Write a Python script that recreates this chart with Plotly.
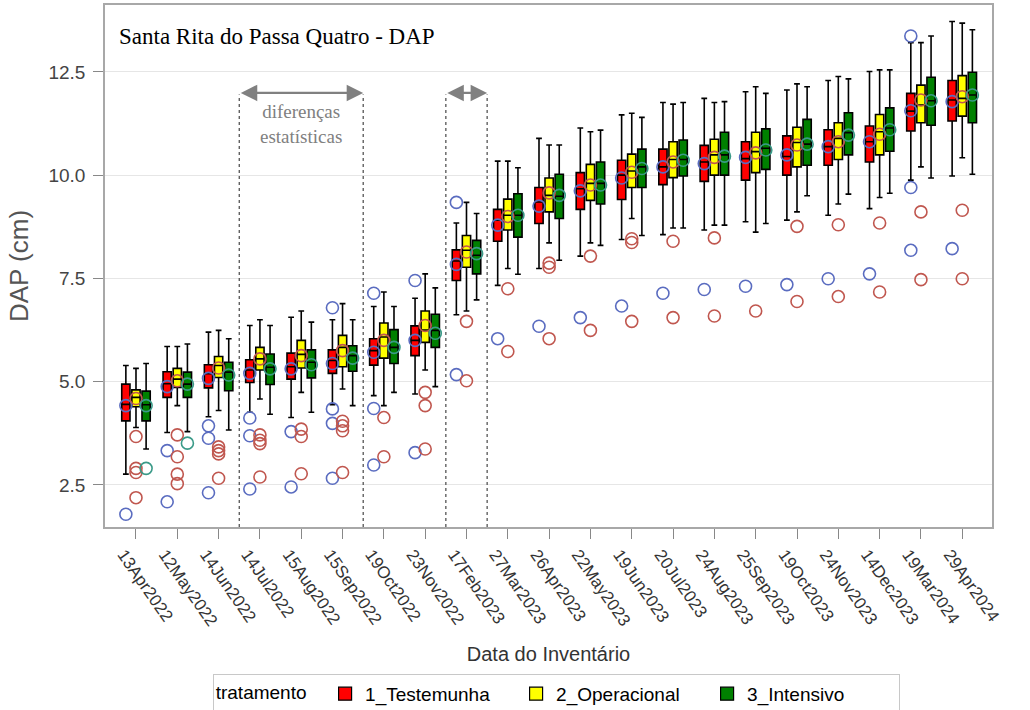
import plotly.graph_objects as go

datas = ["13Apr2022", "12May2022", "14Jun2022", "14Jul2022", "15Aug2022", "15Sep2022",
         "19Oct2022", "23Nov2022", "17Feb2023", "27Mar2023", "26Apr2023", "22May2023",
         "19Jun2023", "20Jul2023", "24Aug2023", "25Sep2023", "19Oct2023", "24Nov2023",
         "14Dec2023", "19Mar2024", "29Apr2024"]

# 1_Testemunha
t1_low = [2.76, 3.77, 4.15, 4.26, 4.13, 4.44, 4.66, 4.70, 6.62, 7.33, 7.74, 8.04, 8.44, 8.56, 8.67, 8.87, 8.91, 9.03, 9.19, 9.88, 9.98]
t1_q1 = [4.05, 4.62, 4.85, 4.98, 5.06, 5.20, 5.40, 5.63, 7.45, 8.40, 8.83, 9.17, 9.41, 9.77, 9.85, 9.88, 10.00, 10.24, 10.32, 11.07, 11.31]
t1_med = [4.45, 4.95, 5.19, 5.28, 5.36, 5.51, 5.75, 6.00, 7.92, 8.91, 9.35, 9.67, 10.00, 10.20, 10.32, 10.40, 10.45, 10.69, 10.81, 11.55, 11.82]
t1_q3 = [4.94, 5.24, 5.41, 5.53, 5.69, 5.77, 6.04, 6.35, 8.19, 9.17, 9.70, 10.06, 10.36, 10.63, 10.72, 10.81, 10.95, 11.10, 11.19, 11.98, 12.29]
t1_high = [5.39, 5.85, 6.20, 6.36, 6.56, 6.50, 6.82, 7.02, 8.84, 10.34, 10.89, 11.14, 11.46, 11.76, 11.86, 12.02, 12.06, 12.29, 12.51, 13.21, 13.72]
t1_mean = [4.42, 4.88, 5.08, 5.20, 5.31, 5.44, 5.71, 6.00, 7.84, 8.79, 9.25, 9.62, 9.93, 10.20, 10.28, 10.43, 10.49, 10.69, 10.81, 11.56, 11.78]
t1_out = [[1.79], [3.33, 2.09], [3.93, 3.63, 2.31], [4.12, 3.69, 2.40], [3.79, 2.45],
          [6.79, 4.34, 3.99, 2.66], [7.14, 4.35, 2.98], [7.45, 3.28], [9.34, 5.17], [6.04],
          [6.34], [6.55], [6.83], [7.14], [7.23], [7.31], [7.35], [7.49], [7.61],
          [13.37, 9.70, 8.18], [8.22]]

# 2_Operacional
t2_low = [3.89, 4.42, 4.30, 4.58, 4.74, 4.82, 4.42, 5.28, 6.71, 7.74, 8.36, 8.36, 8.95, 8.72, 8.79, 8.62, 9.11, 9.30, 9.46, 10.20, 10.42]
t2_q1 = [4.39, 4.86, 5.10, 5.28, 5.33, 5.36, 5.57, 5.95, 7.77, 8.67, 9.11, 9.39, 9.70, 9.94, 10.00, 10.06, 10.20, 10.38, 10.49, 11.27, 11.43]
t2_med = [4.62, 5.06, 5.39, 5.55, 5.66, 5.83, 6.08, 6.25, 8.18, 9.03, 9.51, 9.80, 10.10, 10.38, 10.49, 10.57, 10.79, 10.89, 11.05, 11.70, 11.86]
t2_q3 = [4.80, 5.32, 5.61, 5.83, 6.00, 6.12, 6.42, 6.71, 8.54, 9.42, 9.93, 10.26, 10.51, 10.81, 10.87, 11.04, 11.16, 11.27, 11.47, 12.18, 12.41]
t2_high = [5.32, 5.85, 6.24, 6.50, 6.71, 6.89, 7.17, 7.61, 9.34, 10.34, 10.73, 11.05, 11.50, 11.72, 11.76, 12.14, 12.21, 12.39, 12.55, 13.21, 13.68]
t2_mean = [4.59, 5.02, 5.33, 5.55, 5.63, 5.75, 6.00, 6.36, 8.14, 9.00, 9.57, 9.76, 10.07, 10.32, 10.43, 10.54, 10.73, 10.81, 10.99, 11.82, 11.90]
t2_out = [[3.67, 2.90, 2.80, 2.19], [3.71, 3.18, 2.76, 2.53], [3.42, 3.33, 3.25, 2.66],
          [3.71, 3.58, 3.50, 2.69], [3.85, 3.67, 2.77], [4.04, 3.93, 3.81, 2.80],
          [4.13, 3.18], [4.74, 4.42, 3.37], [6.46, 5.02], [7.25, 5.73], [7.87, 7.77, 6.04],
          [8.04, 6.24], [8.46, 8.37, 6.46], [8.40, 6.55], [8.48, 6.59], [6.71],
          [8.76, 6.94], [8.80, 7.06], [8.84, 7.17], [9.11, 7.47], [9.15, 7.49]]

# 3_Intensivo
t3_low = [3.37, 3.79, 3.83, 4.21, 4.26, 4.42, 4.74, 4.88, 6.98, 7.60, 7.94, 8.30, 8.54, 8.72, 8.79, 8.83, 9.50, 9.54, 9.56, 9.93, 10.02]
t3_q1 = [4.05, 4.62, 4.78, 4.93, 5.09, 5.25, 5.44, 5.83, 7.61, 8.50, 8.95, 9.30, 9.70, 9.98, 10.00, 10.14, 10.24, 10.49, 10.58, 11.21, 11.27]
t3_med = [4.44, 4.94, 5.23, 5.35, 5.47, 5.63, 5.83, 6.24, 8.06, 9.03, 9.49, 9.80, 10.20, 10.38, 10.49, 10.65, 10.75, 11.03, 11.14, 11.80, 11.94]
t3_q3 = [4.77, 5.23, 5.47, 5.67, 5.77, 5.87, 6.26, 6.63, 8.42, 9.55, 10.02, 10.32, 10.63, 10.85, 11.04, 11.12, 11.35, 11.51, 11.63, 12.37, 12.49]
t3_high = [5.44, 5.91, 6.04, 6.36, 6.44, 6.50, 6.82, 7.27, 9.07, 10.18, 10.73, 11.09, 11.40, 11.76, 11.78, 11.98, 12.14, 12.33, 12.55, 13.37, 13.52]
t3_mean = [4.42, 4.94, 5.16, 5.31, 5.41, 5.57, 5.83, 6.17, 8.10, 9.03, 9.51, 9.76, 10.16, 10.36, 10.46, 10.61, 10.75, 10.97, 11.10, 11.80, 11.94]
t3_out = [[2.90], [3.51]] + [[] for _ in range(19)]

tratamentos = ["1_Testemunha", "2_Operacional", "3_Intensivo"]
fills = ["#ff0000", "#ffff00", "#008000"]
circ = ["#5a6cc0", "#c0574f", "#3a9a88"]
offsets = [-0.245, 0.0, 0.245]
label_shift = 0.3
series = [
    (t1_low, t1_q1, t1_med, t1_q3, t1_high, t1_mean, t1_out),
    (t2_low, t2_q1, t2_med, t2_q3, t2_high, t2_mean, t2_out),
    (t3_low, t3_q1, t3_med, t3_q3, t3_high, t3_mean, t3_out),
]

# vertical dotted separators (between categories) and arrows
separators = [2.5, 5.5, 7.5, 8.5]
arrow_spans = [(2.5, 5.5), (7.5, 8.5)]
arrow_y = 11.99
line_top = 11.95

ymin, ymax = 1.48, 14.12
xmin, xmax = -0.75, 20.72
n = len(datas)

fig = go.Figure()

for k, (lo, q1, md, q3, hi, mn, outs) in enumerate(series):
    xs = [i + offsets[k] for i in range(n)]
    fig.add_trace(go.Box(
        x=xs, q1=q1, median=md, q3=q3, lowerfence=lo, upperfence=hi,
        width=0.2, whiskerwidth=0.7, boxpoints=False,
        fillcolor=fills[k], line=dict(color="black", width=1.6),
        showlegend=False, hoverinfo="skip"))

for k, (lo, q1, md, q3, hi, mn, outs) in enumerate(series):
    xs = [i + offsets[k] for i in range(n)]
    ox, oy = [], []
    for i, vals in enumerate(outs):
        for v in vals:
            ox.append(i + offsets[k])
            oy.append(v)
    fig.add_trace(go.Scatter(
        x=xs + ox, y=mn + oy, mode="markers",
        marker=dict(symbol="circle-open", size=12, color=circ[k], line=dict(width=1.6)),
        showlegend=False, hoverinfo="skip"))

for k in range(3):
    fig.add_trace(go.Scatter(
        x=[None], y=[None], mode="markers", name=tratamentos[k], xaxis="x2",
        marker=dict(symbol="square", size=13, color=fills[k], line=dict(color="black", width=1.2))))

for s in separators:
    fig.add_shape(type="line", x0=s, x1=s, y0=ymin, y1=line_top, xref="x", yref="y",
                  line=dict(color="#555555", width=1.3, dash="dot"))

for a, b in arrow_spans:
    fig.add_annotation(x=b, y=arrow_y, ax=a, ay=arrow_y, xref="x", yref="y", axref="x", ayref="y",
                       text="", showarrow=True, arrowhead=2, arrowside="end+start",
                       arrowsize=1.5, arrowwidth=2.2, arrowcolor="#808080")

fig.add_annotation(x=(separators[0] + separators[1]) / 2, y=11.24, xref="x", yref="y",
                   text="diferenças<br>estatísticas", showarrow=False,
                   font=dict(family="Liberation Serif", size=19, color="#808080"))

fig.add_annotation(x=0.013, y=0.94, xref="paper", yref="paper", xanchor="left", yanchor="middle",
                   text="Santa Rita do Passa Quatro - DAP", showarrow=False,
                   font=dict(family="Liberation Serif", size=23, color="black"))

fig.update_layout(
    width=1030, height=710,
    margin=dict(l=105, r=38, t=5, b=183, autoexpand=False),
    paper_bgcolor="white", plot_bgcolor="white",
    font=dict(family="Liberation Sans", color="#333333"),
    boxmode="overlay",
    legend=dict(orientation="h", x=0.54, xanchor="center", xref="container",
                y=0.051, yanchor="top", yref="container",
                bordercolor="#c8c8c8", borderwidth=1, bgcolor="white",
                title=dict(text="tratamento  ", side="left", font=dict(size=19, color="black")),
                font=dict(size=19, color="black"), entrywidth=146, tracegroupgap=0),
    xaxis=dict(range=[xmin, xmax], tickmode="array", tickvals=list(range(n)),
               showticklabels=False,
               ticks="outside", ticklen=10, tickcolor="#888888",
               showline=True, mirror=True, linecolor="#a8a8a8", linewidth=1.5,
               showgrid=False, zeroline=False, automargin=False),
    xaxis2=dict(overlaying="x", anchor="y", side="bottom", range=[xmin, xmax],
                tickmode="array", tickvals=[i - label_shift for i in range(n)], ticktext=datas,
                tickangle=55, tickfont=dict(size=17, color="#333333"),
                ticks="outside", ticklen=10, tickcolor="rgba(0,0,0,0)",
                showline=False, showgrid=False, zeroline=False, automargin=False,
                title=dict(text="Data do Inventário", font=dict(size=20, color="#333333"), standoff=18)),
    yaxis=dict(range=[ymin, ymax], tickvals=[2.5, 5.0, 7.5, 10.0, 12.5],
               ticktext=["2.5", "5.0", "7.5", "10.0", "12.5"],
               tickfont=dict(size=19, color="#444444"),
               ticks="outside", ticklen=10, tickcolor="#888888", ticklabelstandoff=4,
               showline=True, mirror=True, linecolor="#a8a8a8", linewidth=1.5,
               showgrid=True, gridcolor="#e6e6e6", gridwidth=1, zeroline=False, automargin=False,
               title=dict(text="DAP (cm)", font=dict(size=26, color="#555555"), standoff=12)),
)

fig.write_html("out.html", config={"displayModeBar": False},
               post_script="document.body.style.margin='0px';")
